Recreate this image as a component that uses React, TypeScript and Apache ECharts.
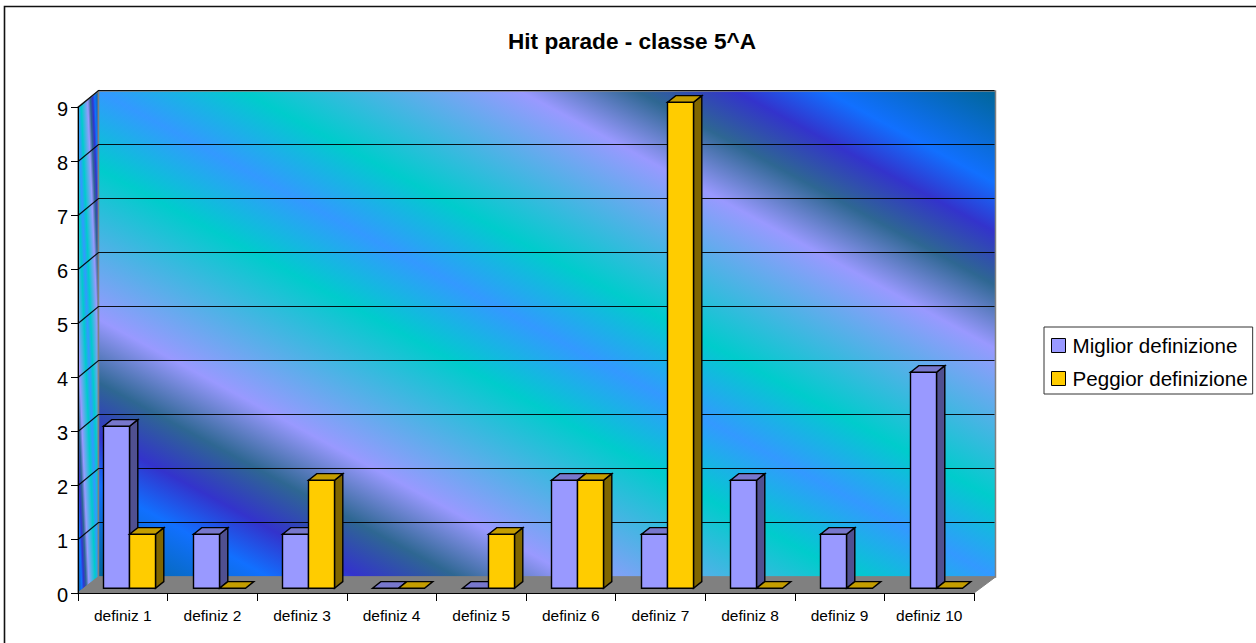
import React, { useEffect, useRef } from "react";
import * as echarts from "echarts";

const categories = ["definiz 1", "definiz 2", "definiz 3", "definiz 4", "definiz 5", "definiz 6", "definiz 7", "definiz 8", "definiz 9", "definiz 10"];
const bestValues = [3, 1, 1, 0, 0, 2, 1, 2, 1, 4];
const worstValues = [1, 0, 2, 0, 1, 2, 9, 0, 0, 0];
const yTicks = [1, 2, 3, 4, 5, 6, 7, 8, 9];
const bestName = "Miglior definizione";
const worstName = "Peggior definizione";
const titleText = "Hit parade - classe 5^A";

const FONT = "'Liberation Sans', Arial, sans-serif";
const DEPTH_X = 20.5;
const DEPTH_Y = 16;
const BAR_W = 26;
const PEACOCK: [number, string][] = [
  [0, "#3399FF"], [0.16, "#00CCCC"], [0.47, "#9999FF"], [0.6, "#2E6792"],
  [0.71, "#3333CC"], [0.81, "#1170FF"], [1, "#006699"],
];
const mirroredStops = () => {
  const up = PEACOCK.map(([u, color]) => ({ offset: 0.5 + u / 2, color }));
  const down = PEACOCK.slice(1).map(([u, color]) => ({ offset: 0.5 - u / 2, color })).reverse();
  return [...down, ...up];
};
// gradient whose bands follow the TL-BR diagonal of a (possibly sheared) wall
const wallGradient = (ax: number, ay: number, gx: number, gy: number) => {
  const n = gx * gx + gy * gy;
  return new echarts.graphic.LinearGradient(ax - gx / n, ay - gy / n, ax + gx / n, ay + gy / n, mirroredStops(), true);
};

const renderWalls = (_p: any, api: any) => {
  const bl = api.coord([0, 0]);
  const tl = api.coord([0, 9]);
  const band = api.size([1, 0])[0];
  const left = bl[0] - band / 2;
  const right = left + band * categories.length;
  const bottom = bl[1];
  const top = tl[1];
  const backL = left + DEPTH_X;
  const backR = right + DEPTH_X + 1;
  const backT = top - DEPTH_Y;
  const backB = bottom - DEPTH_Y;
  const W = backR - backL;
  const H = backB - backT;
  const sideS = (1 - DEPTH_Y / H) / DEPTH_X;
  const stroke = { stroke: "#808080", lineWidth: 1.5 };
  return {
    type: "group",
    children: [
      {
        type: "polygon",
        shape: { points: [[left, top], [backL, backT], [backL, backB], [left, bottom]] },
        style: { fill: wallGradient(left, top, sideS, -1 / H), ...stroke },
      },
      {
        type: "rect",
        shape: { x: backL, y: backT, width: W, height: H },
        style: { fill: wallGradient(backL, backT, 1 / W, -1 / H), ...stroke },
      },
      {
        type: "polygon",
        shape: { points: [[left, bottom], [backL, backB], [backR, backB], [right, bottom]] },
        style: { fill: "#808080", stroke: "#808080", lineWidth: 1 },
      },
    ],
  };
};

const renderGrid = (_p: any, api: any) => {
  const bl = api.coord([0, api.value(1)]);
  const band = api.size([1, 0])[0];
  const left = bl[0] - band / 2;
  const right = left + band * categories.length;
  const y = Math.round(bl[1]) - 0.5;
  return {
    type: "polyline",
    shape: { points: [[left, y + 1], [left + DEPTH_X, y - DEPTH_Y], [right + DEPTH_X, y - DEPTH_Y]] },
    style: { fill: "none", stroke: "rgba(0,0,0,0.9)", lineWidth: 1.2 },
  };
};

const makeBars = (front: string, topC: string, sideC: string, dir: number) => (_p: any, api: any) => {
  const base = api.coord([api.value(0), 0]);
  const peak = api.coord([api.value(0), api.value(1)]);
  const shift = 6.4;
  const x0 = Math.round(base[0] + shift + (dir < 0 ? -BAR_W : 0)) + 0.5;
  const x1 = x0 + BAR_W;
  const yb = base[1] - 4.7;
  const yt = peak[1] - 4.7;
  const dx = 8.3;
  const dy = 6.7;
  const line = { stroke: "#000", lineWidth: 1.4, lineJoin: "miter" };
  const children: any[] = [];
  if (yb - yt > 0.5) {
    children.push({
      type: "polygon",
      shape: { points: [[x1, yt], [x1 + dx, yt - dy], [x1 + dx, yb - dy], [x1, yb]] },
      style: { fill: sideC, ...line },
    });
    children.push({
      type: "rect",
      shape: { x: x0, y: yt, width: BAR_W, height: yb - yt },
      style: { fill: front, ...line },
    });
  }
  children.push({
    type: "polygon",
    shape: { points: [[x0, yt], [x0 + dx, yt - dy], [x1 + dx, yt - dy], [x1, yt]] },
    style: { fill: topC, ...line },
  });
  return { type: "group", children };
};

export default function App() {
  const ref = useRef<HTMLDivElement>(null);
  useEffect(() => {
    const chart = echarts.init(ref.current!, null, { renderer: "svg" });
    chart.setOption({
      animation: false,
      backgroundColor: "#fff",
      title: {
        text: titleText,
        left: 627,
        textAlign: "center",
        top: 25,
        textStyle: { fontFamily: FONT, fontSize: 22.6, fontWeight: "bold", color: "#000" },
      },
      grid: { left: 78, top: 107, width: 896, height: 486, containLabel: false },
      xAxis: {
        type: "category",
        data: categories,
        z: 5,
        axisLine: { lineStyle: { color: "#000", width: 1 } },
        axisTick: { show: true, length: 8, alignWithLabel: false, lineStyle: { color: "#000" } },
        axisLabel: { fontFamily: FONT, fontSize: 15.5, color: "#000", margin: 14, interval: 0 },
        splitLine: { show: false },
      },
      yAxis: {
        type: "value",
        min: 0,
        max: 9,
        interval: 1,
        z: 5,
        axisLine: { show: true, lineStyle: { color: "#000", width: 1 } },
        axisTick: { show: true, length: 7, lineStyle: { color: "#000" } },
        axisLabel: {
          margin: 10,
          formatter: "{n|{value}}",
          rich: { n: { fontFamily: FONT, fontSize: 20, color: "#000", padding: [4, 0, 0, 0] } },
        },
        splitLine: { show: false },
      },
      legend: {
        orient: "vertical",
        left: 1044,
        top: 327,
        padding: [8, 5, 5, 7],
        itemGap: 12,
        itemWidth: 14,
        itemHeight: 14,
        selectedMode: false,
        borderColor: "#333",
        borderWidth: 1,
        backgroundColor: "#fff",
        textStyle: { fontFamily: FONT, fontSize: 20.6, color: "#000", padding: [0, 0, 0, 2] },
        data: [
          { name: bestName, icon: "rect", itemStyle: { color: "#9999FF", borderColor: "#000", borderWidth: 1 } },
          { name: worstName, icon: "rect", itemStyle: { color: "#FFCC00", borderColor: "#000", borderWidth: 1 } },
        ],
      },
      graphic: [
        {
          type: "polyline",
          silent: true,
          shape: { points: [[4.5, 643], [4.5, 6.5], [1256, 6.5]] },
          style: { fill: "none", stroke: "#111", lineWidth: 1.6 },
        },
      ],
      series: [
        {
          type: "custom",
          name: "walls",
          z: 1,
          silent: true,
          renderItem: renderWalls,
          data: [[0, 0]],
          encode: { x: 0, y: 1 },
        },
        {
          type: "custom",
          name: "grid",
          z: 2,
          silent: true,
          renderItem: renderGrid,
          data: yTicks.map((v) => [0, v]),
          encode: { x: 0, y: 1 },
        },
        {
          type: "custom",
          name: bestName,
          z: 3,
          renderItem: makeBars("#9999FF", "#7777CC", "#505090", -1),
          itemStyle: { color: "#9999FF" },
          data: bestValues.map((v, i) => [i, v]),
          encode: { x: 0, y: 1 },
        },
        {
          type: "custom",
          name: worstName,
          z: 4,
          renderItem: makeBars("#FFCC00", "#C49D00", "#806600", 1),
          itemStyle: { color: "#FFCC00" },
          data: worstValues.map((v, i) => [i, v]),
          encode: { x: 0, y: 1 },
        },
      ],
    });
    return () => chart.dispose();
  }, []);
  return <div ref={ref} style={{ position: "absolute", left: 0, top: 0, width: 1256, height: 643 }} />;
}
